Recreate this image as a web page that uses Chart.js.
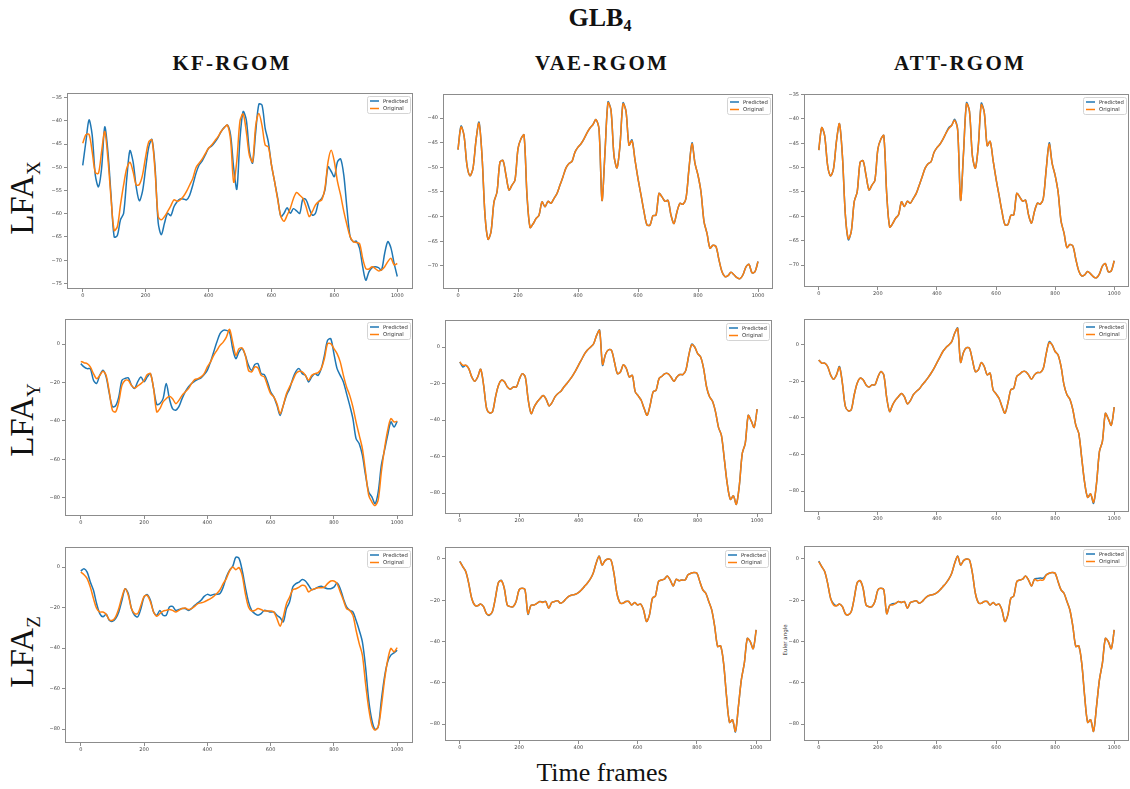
<!DOCTYPE html>
<html>
<head>
<meta charset="utf-8">
<script src="https://cdn.jsdelivr.net/npm/chart.js@4.4.1/dist/chart.umd.min.js"></script>
<style>
  body { margin: 0; background: #fff; }
  #page { position: relative; width: 1130px; height: 789px; overflow: hidden; font-family: "Liberation Serif", serif; color: #111; }
  .lbl { position: absolute; white-space: nowrap; transform: translate(-50%, -50%); }
  .title { font-weight: bold; font-size: 26px; }
  .title sub { font-size: 16px; vertical-align: -5px; }
  .col { font-weight: bold; font-size: 21px; letter-spacing: 2.2px; }
  .row { font-size: 33px; transform: translate(-50%, -50%) rotate(-90deg); }
  .row sub { font-size: 19px; vertical-align: -7px; }
  .xlab { font-size: 26px; }
  .ylab { font-family: "DejaVu Sans", sans-serif; font-size: 5.5px; color: #333; transform: translate(-50%, -50%) rotate(-90deg); }
  canvas { position: absolute; }
</style>
</head>
<body>
<div id="page">
  <div class="lbl title" style="left:600px;top:19px">GLB<sub>4</sub></div>
  <div class="lbl col" style="left:232px;top:63px">KF-RGOM</div>
  <div class="lbl col" style="left:602px;top:63px">VAE-RGOM</div>
  <div class="lbl col" style="left:960px;top:63px">ATT-RGOM</div>
  <div class="lbl row" style="left:24px;top:198px">LFA<sub>X</sub></div>
  <div class="lbl row" style="left:24px;top:420px">LFA<sub>Y</sub></div>
  <div class="lbl row" style="left:24px;top:652px">LFA<sub>Z</sub></div>
  <div class="lbl xlab" style="left:602px;top:773px">Time frames</div>
  <div class="lbl ylab" style="left:785px;top:640px">Euler angle</div>
</div>
<script>
// ===== DATA (every 10 frames) =====
const frames = [
  0, 10, 20, 30, 40, 50, 60, 70, 80, 90,
  100, 110, 120, 130, 140, 150, 160, 170, 180, 190,
  200, 210, 220, 230, 240, 250, 260, 270, 280, 290,
  300, 310, 320, 330, 340, 350, 360, 370, 380, 390,
  400, 410, 420, 430, 440, 450, 460, 470, 480, 490,
  500, 510, 520, 530, 540, 550, 560, 570, 580, 590,
  600, 610, 620, 630, 640, 650, 660, 670, 680, 690,
  700, 710, 720, 730, 740, 750, 760, 770, 780, 790,
  800, 810, 820, 830, 840, 850, 860, 870, 880, 890,
  900, 910, 920, 930, 940, 950, 960, 970, 980, 990,
  1000
];
const ticksFrames = [0, 200, 400, 600, 800, 1000];
const ticksXkf = [-75, -70, -65, -60, -55, -50, -45, -40, -35];
const ticksXvae = [-70, -65, -60, -55, -50, -45, -40];
const ticksXatt = [-70, -65, -60, -55, -50, -45, -40, -35];
const ticksYZ = [-80, -60, -40, -20, 0];

// LFA X
const kfPredX = [
  -49.6, -44.5, -39.8, -43, -51.7, -54.2, -50.2, -41.3, -46.6, -56,
  -65, -64.7, -61.3, -59.9, -52.4, -46.4, -48.8, -54.2, -57.2, -55.2,
  -50.2, -45.6, -44, -50, -62, -64.5, -62, -59.9, -60.4, -58.5,
  -57.4, -56.8, -56.8, -57, -56, -53.8, -51.3, -49.5, -48.6, -47.3,
  -45.9, -45.4, -44.6, -43.6, -42.3, -41.4, -40.9, -43, -50.2, -54.7,
  -43.8, -38, -39.8, -46.6, -49.1, -42.3, -36.4, -36.6, -41.6, -44.5,
  -49.5, -53.1, -56.7, -60.6, -59.9, -58.7, -59.9, -58.9, -59.4, -59.9,
  -56.8, -57, -58.8, -60.3, -59.9, -57.4, -56.7, -54.9, -49.9, -50.9,
  -52, -48.8, -48.2, -51.7, -58.8, -64.9, -66, -65.9, -67.4, -71.4,
  -74.3, -72.5, -71.6, -71.4, -71.6, -72.1, -68.5, -66, -67.4, -70.7,
  -73.5
];
const kfOrigX = [
  -44.8, -43, -42.9, -46.6, -51.1, -51.3, -46.6, -42.3, -48.1, -56.7,
  -63.6, -62.8, -58.1, -53.8, -50.2, -48.9, -50.9, -53.8, -53.7, -51.7,
  -47.7, -44.5, -44.1, -50.9, -60.6, -61.3, -60.6, -59.5, -58.3, -57,
  -57.3, -57, -56.3, -55.2, -53.8, -52.4, -50.1, -49.1, -48.2, -47,
  -45.9, -45.2, -44.3, -43.4, -42.3, -41.5, -40.9, -44.1, -53.2, -48.5,
  -40, -38.5, -42.3, -47.5, -48.8, -41, -38.4, -41, -45.2, -45.6,
  -49.5, -53.1, -57, -60.6, -61.6, -60.3, -58.8, -56.7, -55.4, -56,
  -56.7, -58.5, -60.6, -59.5, -58.1, -57.4, -57, -54.5, -48.8, -46.3,
  -48.8, -53.1, -56, -59.5, -62.4, -64.9, -66, -66.2, -66.4, -69.6,
  -71.8, -71.9, -71.4, -71.8, -72.3, -72.1, -71.4, -70.3, -69.6, -71,
  -70.7
];
const origX = [
  -46.4, -41.8, -43.5, -49.6, -51.7, -50.2, -44.5, -41, -47.6, -59.7,
  -64.6, -63.1, -57, -55, -48.9, -48.6, -51.6, -54.6, -53.6, -52.6,
  -46.2, -44.2, -43.4, -55.5, -62.2, -61.5, -60.4, -59.7, -57, -58,
  -56.9, -57.3, -56.3, -55.3, -53.6, -51.9, -50.1, -49.2, -48.8, -46.9,
  -45.9, -45.2, -44.2, -43, -42, -41.3, -40.3, -42.2, -56.7, -46.9,
  -36.9, -38.4, -47.6, -50.1, -45.5, -37.1, -38.6, -45.5, -44.6, -48.5,
  -52.3, -55.6, -59, -61.7, -61.7, -59.8, -59.7, -55.3, -56, -56.9,
  -56.7, -59.7, -61.4, -59, -57.3, -57.5, -56.3, -50.2, -45.2, -49.2,
  -51.6, -55, -61, -63.4, -66.4, -65.8, -66.1, -68.8, -71.2, -72.2,
  -72, -71.3, -71.8, -72.4, -72.6, -71.8, -70.2, -69.7, -71.4, -71.2,
  -69.1
];
const vaePredX = [
  -46.4, -41.6, -43.5, -49.6, -51.7, -50.2, -44.5, -40.8, -47.6, -59.7,
  -64.6, -63.1, -57, -55, -48.9, -48.6, -51.6, -54.6, -53.6, -52.6,
  -46.2, -44.2, -43.4, -55.8, -62.2, -61.5, -60.4, -59.7, -57, -58,
  -56.9, -57.3, -56.3, -55.3, -53.6, -51.9, -50.1, -49.2, -48.8, -46.9,
  -45.9, -45.2, -44.2, -43, -42, -41.3, -40.3, -42.2, -56.7, -46.9,
  -36.7, -38.4, -47.6, -50.1, -45.5, -36.9, -38.6, -45.5, -44.4, -48.5,
  -52.3, -55.6, -59, -61.7, -61.7, -59.8, -59.7, -55.3, -56, -56.9,
  -56.7, -59.7, -61.4, -59, -57.3, -57.5, -56.3, -50.2, -45, -49.2,
  -51.6, -55, -61, -63.4, -66.4, -65.8, -66.1, -68.8, -71.2, -72.2,
  -72, -71.3, -71.8, -72.4, -72.6, -71.8, -70.2, -69.7, -71.4, -71.2,
  -69.1
];
const attPredX = [
  -46.4, -41.8, -43.5, -49.6, -51.7, -50.2, -44.5, -41, -47.6, -59.7,
  -64.8, -63.1, -57, -55, -48.9, -48.6, -51.6, -54.6, -53.6, -52.6,
  -46.2, -44.2, -43.4, -55.5, -62.2, -61.5, -60.4, -59.7, -57, -58,
  -56.9, -57.3, -56.3, -55.3, -53.6, -51.9, -50.1, -49.2, -48.8, -46.9,
  -45.9, -45.2, -44.2, -43, -41.8, -41.3, -40.1, -42.2, -56.7, -46.9,
  -36.7, -38.4, -47.6, -50.1, -45.5, -36.8, -38.6, -45.5, -44.6, -48.5,
  -52.3, -55.6, -59, -61.7, -61.7, -59.8, -59.7, -55.3, -56, -56.9,
  -56.7, -59.7, -61.4, -59, -57.3, -57.5, -56.3, -50.2, -44.9, -49.2,
  -51.6, -55, -61, -63.4, -66.4, -65.8, -66.1, -68.8, -71.2, -72.2,
  -72, -71.3, -71.8, -72.4, -72.6, -71.8, -70.2, -69.7, -71.4, -71.2,
  -69.1
];

// LFA Y
const kfPredY = [
  -10.2, -11.9, -12.8, -12.8, -18.8, -20.5, -16.2, -13.6, -17.1, -25.7,
  -32.6, -32.1, -27.5, -18.8, -17.9, -17.6, -21.4, -23.1, -19.6, -17.1,
  -19.6, -17.1, -15.4, -23.1, -31.4, -30.9, -28.4, -20.5, -28.4, -33.6,
  -34.4, -32.6, -28.4, -24.9, -22.3, -20.5, -19.3, -18.3, -17.6, -15.9,
  -13.6, -9.3, -4.1, 1, 5.4, 7.1, 7.1, 6.2, -2.4, -7.6,
  -4.1, -2.4, -5.9, -11.1, -13.7, -10.7, -10.2, -15.4, -15.9, -19.7,
  -24.9, -27.5, -31.9, -37.1, -31.9, -26.7, -23.2, -18, -14.2, -12.8,
  -15.4, -16.3, -19.7, -17.1, -15.4, -16.3, -12.8, -5.9, 1.9, 2.8,
  -5, -12.8, -16.3, -19.7, -25.8, -31.9, -38.8, -49.2, -51.8, -57.8,
  -68.2, -76.9, -79.5, -83, -77, -63, -55.2, -47.4, -40.5, -43.1,
  -40.2
];
const kfOrigY = [
  -9, -9.7, -10.2, -11.9, -15.4, -18, -16.3, -14.2, -16.3, -24.9,
  -34.5, -35.3, -30.1, -21.5, -18.9, -18.9, -21.5, -22.9, -21.8, -20.6,
  -18.9, -15.9, -15.4, -23.2, -35.3, -33.6, -30.1, -28.4, -27.2, -28.4,
  -31, -29.3, -26.7, -24.9, -23.2, -20.6, -18.5, -18, -17.1, -15.4,
  -11.9, -9.3, -5.9, -3.3, -0.7, 1, 3.6, 7.6, 1, -5.9,
  -2.4, -2.1, -5.9, -13.7, -14.5, -11.9, -12.5, -16.3, -17.1, -21.5,
  -25.8, -27.5, -31, -36.2, -31.9, -25.8, -22.3, -18.9, -15.4, -14.2,
  -14.5, -16.3, -18.9, -16.3, -15.4, -14.9, -12.8, -7.6, 0.2, 0.2,
  -2.4, -5, -9.3, -16.3, -22.3, -26.7, -32.7, -40.5, -47.4, -54.4,
  -66.5, -78.6, -82.1, -84, -81, -66.5, -54.4, -44.8, -38.8, -40.5,
  -40.2
];
const origY = [
  -8.2, -10, -10, -11.8, -16.4, -18.8, -16.4, -12.2, -21, -33.7,
  -36.1, -35.5, -27.3, -21, -18.2, -19.1, -21.9, -23.1, -21.9, -21.9,
  -17.7, -14.6, -16.4, -29, -36.5, -32.8, -30.1, -28.2, -26.6, -28.5,
  -32.3, -30.5, -27.3, -25.5, -24.2, -21.9, -20, -17.9, -15.5, -12.8,
  -9.7, -6.7, -3.6, -1.5, 0, 1.8, 6.4, 9, -9.5, -4,
  -1.5, -1.8, -8.2, -14.6, -13.7, -9.7, -11.8, -16.4, -15.5, -24.6,
  -26.8, -29.2, -33.7, -37.4, -31.9, -24.6, -23.7, -17.3, -16, -14.6,
  -14.6, -16.4, -18.8, -16.4, -15.1, -15.1, -12.8, -4.6, 1.3, 0,
  -3.6, -5.5, -11.8, -21.9, -27.3, -29.7, -35.5, -44, -48.5, -62,
  -75.6, -83.5, -81.6, -86.2, -76, -58.3, -52.8, -37.5, -40.5, -44,
  -34.1
];
const vaePredY = [
  -8.2, -11, -10, -11.8, -16.4, -18.8, -16.4, -12.2, -21, -33.7,
  -36.1, -35.5, -27.3, -21, -18.2, -19.1, -21.9, -23.1, -21.9, -21.9,
  -17.7, -14.6, -16.4, -29, -36.5, -32.8, -30.1, -28.2, -26.6, -28.5,
  -32.3, -30.5, -27.3, -25.5, -24.2, -21.9, -20, -17.9, -15.5, -12.8,
  -9.7, -6.7, -3.6, -1.5, 0, 1.8, 6.4, 9.3, -10, -4,
  -1.5, -1.8, -8.2, -14.6, -13.7, -9.7, -11.8, -16.4, -15.5, -24.6,
  -26.8, -29.2, -33.7, -37.4, -31.9, -24.6, -23.7, -17.3, -16, -14.6,
  -14.6, -16.4, -18.8, -16.4, -15.1, -15.1, -12.8, -4.6, 1.6, 0,
  -3.6, -5.5, -11.8, -21.9, -27.3, -29.7, -35.5, -44, -48.5, -62,
  -75.6, -83.5, -81.6, -86.2, -76, -58.3, -52.8, -37.5, -40.5, -44,
  -34.1
];
const attPredY = [
  -8.2, -10, -10, -11.8, -16.4, -18.8, -16.4, -11.8, -21, -33.7,
  -36.1, -35.5, -27.3, -21, -18.2, -19.1, -21.9, -23.1, -21.9, -21.9,
  -17.7, -14.6, -16.4, -29, -36.5, -32.8, -30.1, -28.2, -26.6, -28.5,
  -32.3, -30.5, -27.3, -25.5, -24.2, -21.9, -20, -17.9, -15.5, -12.8,
  -9.7, -6.7, -3.6, -1.5, 0, 1.8, 6.4, 9.3, -9.5, -4,
  -1.5, -1.8, -8.2, -14.6, -13.7, -9.7, -11.8, -16.4, -15.5, -24.6,
  -26.8, -29.2, -33.7, -37.4, -31.9, -24.6, -23.7, -17.3, -16, -14.6,
  -14.6, -16.4, -18.8, -16.4, -15.1, -15.1, -12.8, -4.6, 1.8, 0,
  -3.6, -5.5, -11.8, -21.9, -27.3, -29.7, -35.5, -44, -48.5, -62,
  -75.6, -83.5, -81.6, -86.8, -76, -58.3, -52.8, -37.5, -40.5, -44,
  -34.1
];

// LFA Z
const kfPredZ = [
  -2, -0.8, -2.5, -7.4, -11.5, -18.1, -23, -24.6, -23.3, -26.3,
  -26.8, -25.5, -22.2, -16.4, -10.7, -13.1, -20.5, -23.8, -24.6, -20.5,
  -14.8, -13.6, -16.4, -22.2, -23.8, -21.4, -23.8, -23.8, -19.7, -19.4,
  -21.4, -21, -20.5, -20.5, -21.4, -20.5, -18.9, -17.7, -16.4, -14.5,
  -13.5, -14, -13.5, -13.5, -13.1, -9.9, -4.9, -1.6, 0.3, 4.8,
  4.3, -1.6, -9.9, -17.2, -21.4, -23, -23.8, -23, -21.4, -21.7,
  -22.2, -22.2, -23.8, -25, -27.1, -20.5, -17.2, -9.9, -8.2, -7.4,
  -6.2, -6.9, -9, -11.2, -10.7, -9.9, -9.5, -10.2, -10.7, -10.7,
  -9.9, -7.9, -10.7, -15.6, -19.7, -21.4, -22.2, -26.3, -31.2, -37,
  -49.3, -65.7, -75.6, -80.2, -78.9, -65.7, -54.2, -46.8, -43.5, -42.4,
  -41.1
];
const kfOrigZ = [
  -2.5, -3.8, -5.7, -9.9, -15.6, -20.5, -22.2, -22.2, -23.3, -26,
  -26.3, -24.6, -20.5, -14.8, -10.7, -13.9, -20.5, -23, -23, -18.9,
  -14.5, -14, -17.2, -22.2, -24.3, -23, -21.8, -21.4, -21, -21.4,
  -22.2, -21.4, -20.5, -20.2, -21, -20.5, -19.4, -18.1, -17.7, -17.2,
  -16.4, -15.6, -14.5, -13.1, -11.2, -8.2, -5.7, -2, 0, -1.3,
  -0.3, -4.1, -13.1, -19.7, -21.7, -21.4, -20.5, -21, -21.7, -21.7,
  -21.7, -22.2, -25.5, -29.2, -24.6, -18.1, -14.8, -11.2, -10.7, -9.9,
  -9, -9.5, -12.3, -11.2, -10.7, -10.2, -10.2, -9.9, -8.2, -6.9,
  -6.9, -8.2, -12.3, -16.4, -20.5, -21.4, -23.8, -31.2, -37.8, -43.5,
  -57.5, -69.8, -78, -80.5, -78.9, -69, -55.9, -46, -40.2, -41.9,
  -39.8
];
const origZ = [
  -1.3, -3.7, -6.1, -11.8, -19, -22.3, -22.7, -21.8, -23.1, -26.5,
  -27, -25.5, -19, -11.5, -10.5, -14.2, -22.3, -23.1, -23.1, -20.6,
  -15, -14.2, -15, -26.5, -22.5, -22.3, -21.5, -20.6, -21.1, -20.6,
  -23.9, -21.1, -20.6, -20.2, -21.5, -20.6, -19, -17.9, -17.4, -17.1,
  -16.3, -15, -13.4, -11.8, -9.8, -6.9, -2.1, 1.3, -2.9, -0.8,
  0, -0.5, -6.9, -16.6, -21.1, -21.5, -20.6, -20.6, -22.3, -21.1,
  -22.3, -21.8, -24.7, -30.3, -27.1, -19, -17.9, -11, -10.2, -9.8,
  -8.2, -10.2, -13.1, -9.8, -10.5, -10.2, -10.2, -7.7, -6.9, -6.6,
  -6.9, -11, -15, -16.6, -20.6, -24.7, -32.7, -42.4, -42.1, -50.5,
  -66.6, -79.2, -77.9, -83.5, -71.5, -58.5, -50.5, -38.5, -40, -43.5,
  -34.4
];
const vaePredZ = [
  -1.1, -3.7, -6.1, -11.8, -19, -22.3, -22.7, -21.8, -23.1, -26.5,
  -27.3, -25.5, -19, -11.5, -10.3, -14.2, -22.3, -23.1, -23.1, -20.6,
  -15, -14.2, -15, -26.8, -22.5, -22.3, -21.5, -20.6, -20.8, -20.6,
  -23.9, -21.1, -20.6, -20.2, -21.5, -20.6, -19, -17.9, -17.4, -17.1,
  -16.3, -15, -13.4, -11.8, -9.8, -6.9, -2.1, 1.5, -2.9, -0.8,
  0, -0.5, -6.9, -16.6, -21.1, -21.5, -20.6, -20.6, -22.3, -21.1,
  -22.3, -21.8, -24.7, -30.3, -27.1, -19, -17.9, -11, -10.2, -9.8,
  -8.2, -10.2, -13.1, -9.8, -10.5, -10.2, -10.2, -7.7, -6.9, -6.6,
  -6.9, -11, -15, -16.6, -20.6, -24.7, -32.7, -42.4, -42.1, -50.5,
  -66.6, -79.2, -77.9, -83.8, -71.5, -58.5, -50.5, -38.5, -40, -43.5,
  -34.4
];
const attPredZ = [
  -1, -3.7, -6.1, -11.8, -19, -21.7, -22.7, -21.8, -23.1, -26.5,
  -27, -25.5, -19, -11.5, -10.5, -14.2, -22.3, -23.1, -23.1, -20.6,
  -15, -14.2, -15, -26.5, -22.5, -21.7, -21.5, -20.6, -21.1, -20.6,
  -23.9, -21.1, -20.6, -20.2, -21.5, -20.6, -19, -17.9, -17.4, -17.1,
  -16.3, -15, -13.4, -11.8, -9.8, -6.9, -2.1, 1.5, -2.9, -0.8,
  0, -0.5, -6.9, -16.6, -21.1, -21.5, -20.6, -20.6, -22.3, -21.1,
  -22.3, -21.8, -24.7, -30.3, -27.1, -19, -17.9, -11, -10.2, -9.8,
  -8.2, -10.2, -13.1, -9.8, -9.4, -9.2, -9.3, -7.7, -6.9, -6.6,
  -6.9, -11, -15, -16.6, -20.6, -24.7, -32.7, -42.4, -42.1, -50.5,
  -66.6, -79.2, -77.9, -83.5, -71.5, -58.5, -50.5, -38.5, -40, -43.5,
  -34.4
];

// ===== LAYOUT =====
// box: [plot left, plot top, plot width, plot height] in page px
const panels = [
  { pred: kfPredX,  orig: kfOrigX, ticks: ticksXkf,  range: [-76.2, -34],   box: [67, 93, 346, 196] },
  { pred: vaePredX, orig: origX,   ticks: ticksXvae, range: [-74.7, -35.1], box: [443, 94, 330, 195] },
  { pred: attPredX, orig: origX,   ticks: ticksXatt, range: [-74.5, -34.9], box: [804, 94, 325, 193] },
  { pred: kfPredY,  orig: kfOrigY, ticks: ticksYZ,   range: [-89.4, 13],    box: [65, 319, 348, 197] },
  { pred: vaePredY, orig: origY,   ticks: ticksYZ,   range: [-91.5, 14.8],  box: [445, 320, 327, 194] },
  { pred: attPredY, orig: origY,   ticks: ticksYZ,   range: [-91.5, 14.2],  box: [804, 319, 325, 193] },
  { pred: kfPredZ,  orig: kfOrigZ, ticks: ticksYZ,   range: [-86.9, 9.9],   box: [65, 547, 348, 196] },
  { pred: vaePredZ, orig: origZ,   ticks: ticksYZ,   range: [-88.2, 5.8],   box: [445, 547, 326, 194] },
  { pred: attPredZ, orig: origZ,   ticks: ticksYZ,   range: [-88.2, 6.3],   box: [804, 546, 325, 195] },
];

const BLUE = '#1f77b4', ORANGE = '#ff7f0e', SPINE = '#8c8c8c';
const YW = 28, XH = 12, PAD_T = 6, PAD_R = 4;
const minus = v => String(v).replace('-', '\u2212');

// frame (spines) + matplotlib-like legend box
const frameLegend = {
  id: 'frameLegend',
  afterDatasetsDraw(chart) {
    const { ctx, chartArea: a } = chart;
    ctx.save();
    ctx.strokeStyle = SPINE;
    ctx.lineWidth = 1;
    ctx.strokeRect(Math.round(a.left) + 0.5, Math.round(a.top) + 0.5, Math.round(a.width) - 1, Math.round(a.height) - 1);

    const w = 43, h = 17, x = Math.round(a.right) - w - 3, y = Math.round(a.top) + 3;
    ctx.fillStyle = 'rgba(255,255,255,0.85)';
    ctx.strokeStyle = '#d4d4d4';
    ctx.beginPath();
    ctx.roundRect(x + 0.5, y + 0.5, w, h, 2);
    ctx.fill();
    ctx.stroke();
    ctx.font = '5.3px "DejaVu Sans"';
    ctx.textBaseline = 'middle';
    chart.data.datasets.forEach((ds, i) => {
      const yy = y + 5 + i * 7.5;
      ctx.strokeStyle = ds.borderColor;
      ctx.lineWidth = 1.5;
      ctx.beginPath();
      ctx.moveTo(x + 3, yy);
      ctx.lineTo(x + 12, yy);
      ctx.stroke();
      ctx.fillStyle = '#333';
      ctx.fillText(ds.label, x + 16, yy + 0.5);
    });
    ctx.restore();
  }
};

const page = document.getElementById('page');

panels.forEach(p => {
  const [left, top, w, h] = p.box;
  const cv = document.createElement('canvas');
  cv.width = w + YW + PAD_R;
  cv.height = h + XH + PAD_T;
  cv.style.left = (left - YW) + 'px';
  cv.style.top = (top - PAD_T) + 'px';
  page.appendChild(cv);

  new Chart(cv, {
    type: 'line',
    data: {
      labels: frames,
      datasets: [
        { label: 'Predicted', data: p.pred, borderColor: BLUE, order: 2 },
        { label: 'Original', data: p.orig, borderColor: ORANGE, order: 1 },
      ]
    },
    options: {
      responsive: false,
      animation: false,
      devicePixelRatio: 1,
      layout: { padding: { top: PAD_T, right: PAD_R, left: 0, bottom: 0 } },
      elements: {
        line: { borderWidth: 1.5, tension: 0.3 },
        point: { radius: 0 }
      },
      plugins: { legend: { display: false }, tooltip: { enabled: false } },
      scales: {
        x: {
          type: 'linear', min: -50, max: 1050,
          afterBuildTicks: s => { s.ticks = ticksFrames.map(v => ({ value: v })); },
          afterFit: s => { s.height = XH; s.paddingLeft = 0; s.paddingRight = 0; },
          grid: { drawOnChartArea: false, drawTicks: true, tickLength: 3, color: SPINE },
          border: { display: false },
          ticks: { font: { family: 'DejaVu Sans', size: 5 }, color: '#444', padding: 1, maxRotation: 0, autoSkip: false, callback: v => String(v) }
        },
        y: {
          min: p.range[0], max: p.range[1],
          afterBuildTicks: s => { s.ticks = p.ticks.map(v => ({ value: v })); },
          afterFit: s => { s.width = YW; s.paddingTop = 0; s.paddingBottom = 0; },
          grid: { drawOnChartArea: false, drawTicks: true, tickLength: 3, color: SPINE },
          border: { display: false },
          ticks: { font: { family: 'DejaVu Sans', size: 5 }, color: '#444', padding: 2, autoSkip: false, callback: v => minus(v) }
        }
      }
    },
    plugins: [frameLegend]
  });
});
</script>
</body>
</html>
